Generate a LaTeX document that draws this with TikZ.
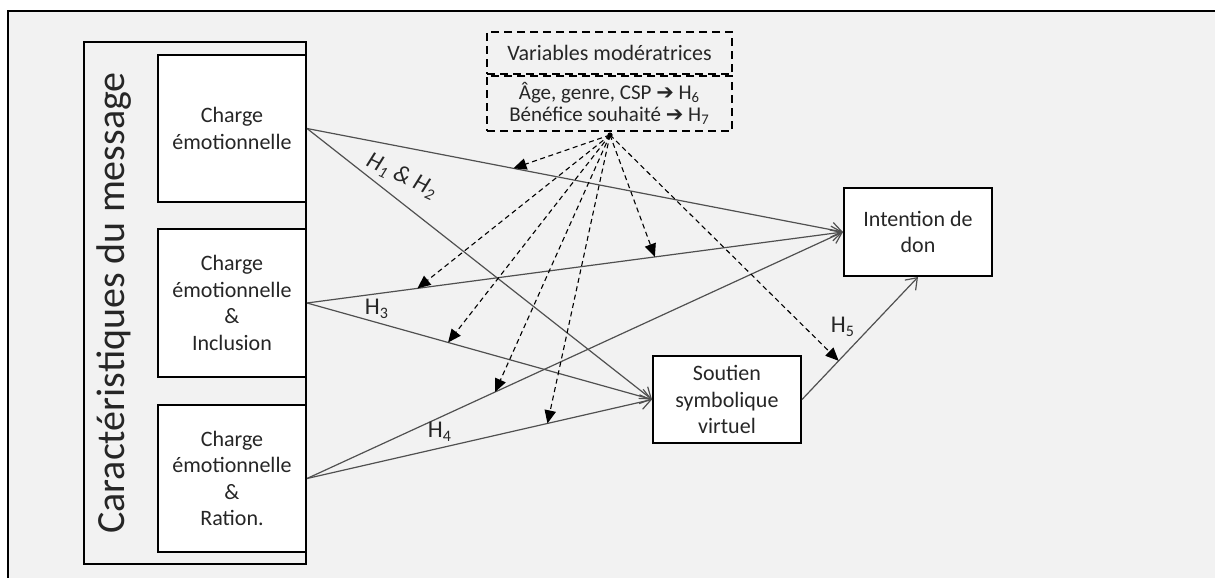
\documentclass[tikz,border=0pt]{standalone}
\usepackage{fontspec}
\setmainfont{Carlito}
\newfontfamily\symfont{DejaVu Sans}
\usetikzlibrary{positioning,arrows.meta}
\definecolor{bggray}{HTML}{F2F2F2}
\definecolor{txtgray}{HTML}{262626}
\definecolor{lngray}{HTML}{505050}

\begin{document}
\begin{tikzpicture}[x=0.5pt, y=-0.5pt,
    font=\fontsize{11}{13.2}\selectfont, text=txtgray,
    box/.style={draw=black, line width=1pt, fill=white, minimum width=74pt,
                minimum height=73.5pt, align=center, inner sep=2pt},
    modbox/.style={draw=black, line width=1pt, dash pattern=on 4pt off 2.5pt,
                minimum width=122.5pt, align=center, inner sep=2pt},
    ar/.style={-{Straight Barb[length=1.8mm,width=2.6mm]}, line width=0.6pt, draw=lngray},
    mod/.style={-{Triangle[length=2.3mm,width=2mm]}, line width=0.55pt,
                dash pattern=on 2.5pt off 1.8pt, draw=black},
    hyp/.style={font=\fontsize{12}{14}\selectfont}]
    \useasboundingbox (0,0) rectangle (1215,578);
    \clip (0,0) rectangle (1215,578);
    \fill[white] (0,0) rectangle (1215,578);
    \draw[line width=1.2pt, fill=bggray] (8,11) rectangle (1240,600);

    % message block
    \node[draw=black, line width=1pt, minimum width=111pt, minimum height=261pt] (carac) at (195,303) {};
    \node[rotate=90, font=\fontsize{20}{24}\selectfont] (titre) at (114,303) {Caractéristiques du message};
    \node[box] (c1) at (232,128.5) {Charge\\émotionnelle};
    \node[box, minimum height=74pt] (c2) at (232,303) {Charge\\émotionnelle\\\&\\Inclusion};
    \node[box] (c3) at (232,478.5) {Charge\\émotionnelle\\\&\\Ration.};

    \node[box, minimum height=44pt] (don) at (918,232) {Intention de\\don};
    \node[box, minimum height=43.5pt] (sout) at (727,399.5) {Soutien\\symbolique\\virtuel};

    % moderators
    \node[modbox, minimum height=21pt] (modh) at (609.5,53) {Variables modératrices};
    \node[modbox, minimum height=27.5pt, below=0pt of modh, font=\fontsize{10.5}{11}\selectfont] (modb)
        {Âge, genre, CSP {\symfont\bfseries ➔} H\textsubscript{6}\\Bénéfice souhaité {\symfont\bfseries ➔} H\textsubscript{7}};

    \draw[ar] (c1.east) -- coordinate[pos=.385] (t1) (don.west);
    \draw[ar] (c1.east) -- (sout.west);
    \draw[ar] (c2.east) -- coordinate[pos=.206] (t2) coordinate[pos=.649] (t6) (don.west);
    \draw[ar] (c2.east) -- coordinate[pos=.409] (t3) (sout.west);
    \draw[ar] (c3.east) -- coordinate[pos=.351] (t4) (don.west);
    \draw[ar] (c3.east) -- coordinate[pos=.697] (t5) (sout.west);
    \draw[ar] (sout.east) -- coordinate[pos=.316] (t7) (don.south);

    \coordinate (src) at (610,135);
    \fill (src) circle (1.3pt);
    \foreach \t in {t1,t2,t3,t4,t5,t6,t7}
      \draw[mod] (src) -- (\t);

    \node[hyp, rotate=-25] (h12) at (402,176) {\textit{H\textsubscript{1} \& H\textsubscript{2}}};
    \node[hyp] (h3) at (377,309) {H\textsubscript{3}};
    \node[hyp] (h4) at (440,432) {H\textsubscript{4}};
    \node[hyp] (h5) at (843,327) {H\textsubscript{5}};
  \end{tikzpicture}
\end{document}
